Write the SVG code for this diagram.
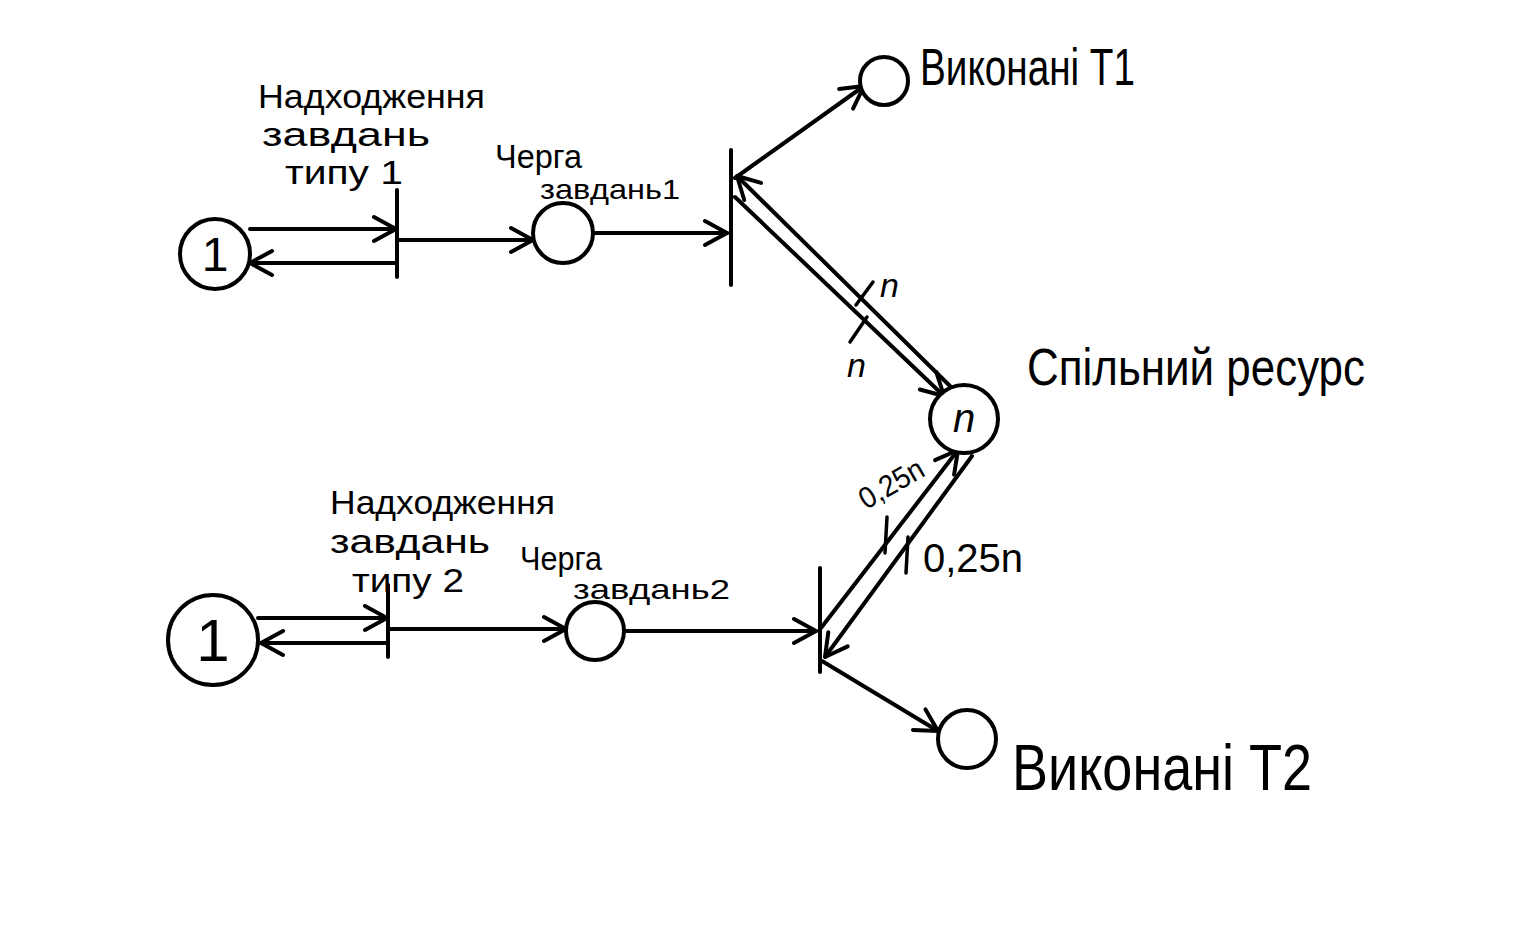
<svg xmlns="http://www.w3.org/2000/svg" width="1536" height="926" viewBox="0 0 1536 926">
<defs>
<marker id="ah" viewBox="0 0 30 30" refX="28" refY="15" markerWidth="30" markerHeight="30" markerUnits="userSpaceOnUse" orient="auto">
<path d="M6,3 L28,15 L6,27" fill="none" stroke="#000" stroke-width="4" stroke-linecap="round" stroke-linejoin="round"/>
</marker>
<style>
.n{fill:#fff;stroke:#000;stroke-width:4}
.b{stroke:#000;stroke-width:4;stroke-linecap:round}
.c{stroke:#000;stroke-width:4;fill:none;stroke-linecap:round;marker-end:url(#ah)}
.t{stroke:#000;stroke-width:3.5;fill:none;stroke-linecap:round}
text{font-family:"Liberation Sans","DejaVu Sans",sans-serif;fill:#000}
.h{font-size:34px}
.s{font-size:28px}
</style>
</defs>
<rect width="1536" height="926" fill="#fff"/>

<g id="connectors">
<path class="c" d="M250,229 L396,229"/>
<path class="c" d="M397,263 L250,263"/>
<path class="c" d="M399,240 L533,240"/>
<path class="c" d="M594,233 L727,233"/>
<path class="c" d="M735,178 L864,86"/>
<path class="c" d="M950,386 L737,176"/>
<path class="c" d="M735,197 L944,396"/>
<path class="t" d="M856,305 L873,282"/>
<path class="t" d="M850,342 L867,317"/>

<path class="c" d="M258,618 L387,618"/>
<path class="c" d="M388,643 L261,643"/>
<path class="c" d="M390,629 L566,629"/>
<path class="c" d="M624,631 L816,631"/>
<path class="c" d="M821,628 L958,450"/>
<path class="c" d="M972,456 L825,657"/>
<path class="c" d="M822,661 L938,731"/>
<path class="t" d="M887,517 L885,553"/>
<path class="t" d="M908,537 L906,573"/>
</g>

<g id="src1">
<circle class="n" cx="215" cy="254" r="35"/>
<text x="215" y="271" font-size="48" text-anchor="middle">1</text>
</g>
<g id="t_in1">
<line class="b" x1="397" y1="190" x2="397" y2="277"/>
<text class="h" x="258" y="108" textLength="227" lengthAdjust="spacingAndGlyphs">Надходження</text>
<text class="h" x="262" y="146" textLength="168" lengthAdjust="spacingAndGlyphs">завдань</text>
<text class="h" x="285" y="184" textLength="118" lengthAdjust="spacingAndGlyphs">типу 1</text>
</g>
<g id="q1">
<circle class="n" cx="563" cy="233" r="30"/>
<text class="h" x="495" y="168" textLength="87" lengthAdjust="spacingAndGlyphs">Черга</text>
<text class="s" x="540" y="199" textLength="140" lengthAdjust="spacingAndGlyphs">завдань1</text>
</g>
<g id="t_proc1">
<line class="b" x1="731" y1="150" x2="731" y2="285"/>
</g>
<g id="done1">
<circle class="n" cx="884" cy="81" r="24"/>
<text x="920" y="85" font-size="52" textLength="215" lengthAdjust="spacingAndGlyphs">Виконані Т1</text>
</g>
<g id="res">
<circle class="n" cx="964" cy="419" r="34"/>
<text x="964" y="432" font-size="40" font-style="italic" text-anchor="middle">n</text>
<text x="1027" y="385" font-size="52" textLength="338" lengthAdjust="spacingAndGlyphs">Спільний ресурс</text>
<text x="880" y="297" font-size="34" font-style="italic">n</text>
<text x="847" y="377" font-size="34" font-style="italic">n</text>
<text x="0" y="0" font-size="30" textLength="70" lengthAdjust="spacingAndGlyphs" transform="translate(866,510) rotate(-30)">0,25n</text>
<text x="923" y="572" font-size="40" textLength="100" lengthAdjust="spacingAndGlyphs">0,25n</text>
</g>

<g id="src2">
<circle class="n" cx="213" cy="640" r="45"/>
<text x="213" y="661" font-size="60" text-anchor="middle">1</text>
</g>
<g id="t_in2">
<line class="b" x1="388" y1="585" x2="388" y2="657"/>
<text class="h" x="330" y="514" textLength="225" lengthAdjust="spacingAndGlyphs">Надходження</text>
<text class="h" x="330" y="553" textLength="160" lengthAdjust="spacingAndGlyphs">завдань</text>
<text class="h" x="352" y="592" textLength="112" lengthAdjust="spacingAndGlyphs">типу 2</text>
</g>
<g id="q2">
<circle class="n" cx="595" cy="631" r="29"/>
<text class="h" x="520" y="570" textLength="82" lengthAdjust="spacingAndGlyphs">Черга</text>
<text class="s" x="573" y="599" textLength="157" lengthAdjust="spacingAndGlyphs">завдань2</text>
</g>
<g id="t_proc2">
<line class="b" x1="820" y1="568" x2="820" y2="672"/>
</g>
<g id="done2">
<circle class="n" cx="967" cy="739" r="29"/>
<text x="1012" y="790" font-size="64" textLength="300" lengthAdjust="spacingAndGlyphs">Виконані Т2</text>
</g>
</svg>
